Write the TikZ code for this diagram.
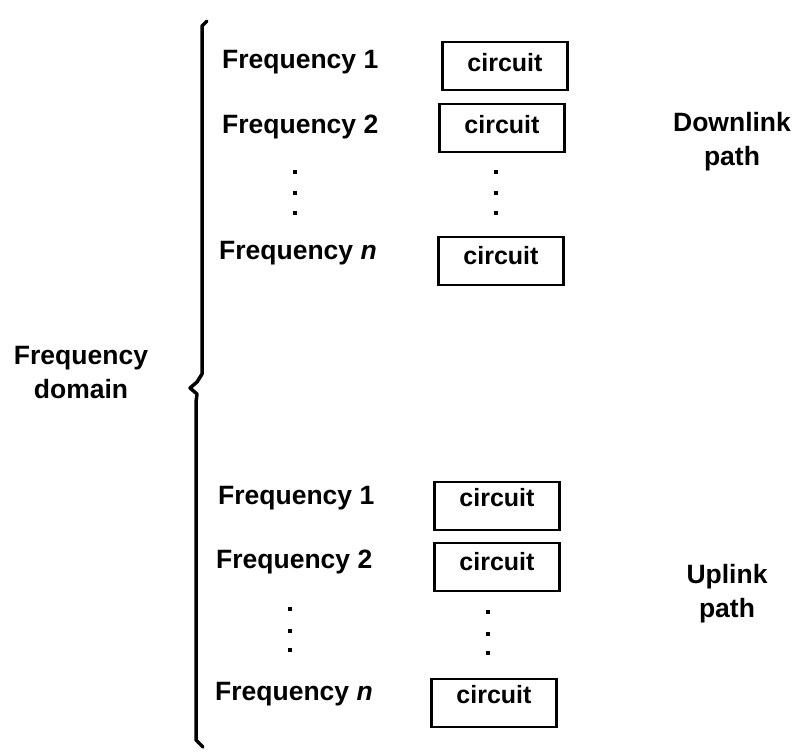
\documentclass[tikz,border=0pt]{standalone}
\usepackage{fontspec}
\setmainfont{Liberation Sans}
\begin{document}
\begin{tikzpicture}[x=1pt,y=-1pt,
  lbl/.style={font=\fontsize{26.5}{28}\selectfont\bfseries, inner sep=0pt, anchor=west},
  side/.style={font=\fontsize{26.5}{34}\selectfont\bfseries, inner sep=0pt, align=center},
  cbox/.style={draw, line width=2.8pt, minimum width=125pt, minimum height=48pt, inner sep=0pt,
     font=\fontsize{25}{28}\selectfont\bfseries},
  dot/.style={fill=black, minimum size=4.5pt, inner sep=0pt, rectangle}]
\useasboundingbox (0,0) rectangle (794,755);
% brace
\draw[line width=3.5pt, line join=round, line cap=round]
  (207,21) -- (202,26) -- (202,374) -- (197,382) -- (190,388) -- (197,394) -- (196,402) -- (196,740) -- (203,747);
% label left
\node[side] (fd) at (81,373) {Frequency\\domain};
% downlink group
\node[lbl] (f1) at (222,62) {Frequency 1};
\node[lbl] (f2) at (222,127) {Frequency 2};
\node[lbl] (fn) at (219,253) {Frequency \textit{n}};
\node[cbox] (c1) at (505,66) {\raisebox{8pt}{circuit}};
\node[cbox] (c2) at (502,128) {\raisebox{8pt}{circuit}};
\node[cbox] (cn) at (501,261) {\raisebox{12pt}{circuit}};
\foreach \yy [count=\i] in {172,193,213} {
  \node[dot] (dl\i) at (295,\yy) {};
  \node[dot] (dr\i) at (496,\yy) {};
}
\node[side] (dp) at (732,142) {Downlink\\path};
% uplink group
\node[lbl] (g1) at (218,498) {Frequency 1};
\node[lbl] (g2) at (216,562) {Frequency 2};
\node[lbl] (gn) at (215,694) {Frequency \textit{n}};
\node[cbox] (k1) at (497,506) {\raisebox{18pt}{circuit}};
\node[cbox] (k2) at (497,567) {\raisebox{12pt}{circuit}};
\node[cbox] (kn) at (494,703) {\raisebox{18pt}{circuit}};
\foreach \yy [count=\i] in {609,631,650} {
  \node[dot] (ul\i) at (290,\yy) {};
  \node[dot] (ur\i) at (488,\yy+3) {};
}
\node[side] (up) at (727,594) {Uplink\\path};
\end{tikzpicture}
\end{document}
